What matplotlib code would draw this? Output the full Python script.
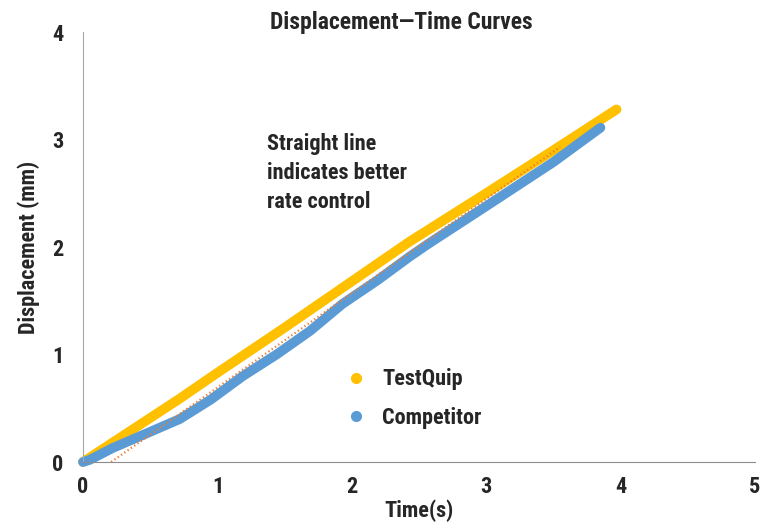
import matplotlib
matplotlib.use("Agg")
import matplotlib.pyplot as plt
from matplotlib.lines import Line2D

# values (seconds, mm)
quip_t = [0.0, 0.72, 1.0, 1.5, 1.93, 2.43, 3.0, 3.5, 3.97]
quip_d = [0.0, 0.59, 0.83, 1.25, 1.62, 2.05, 2.5, 2.9, 3.28]

comp_t = [0.0, 0.05, 0.22, 0.48, 0.72, 0.95, 1.19, 1.44, 1.69, 1.93, 2.19, 2.43, 2.57, 3.0, 3.5, 3.85]
comp_d = [0.0, 0.02, 0.13, 0.27, 0.40, 0.58, 0.80, 1.0, 1.22, 1.47, 1.69, 1.91, 2.03, 2.38, 2.79, 3.11]

trend_t = [0.21, 3.55]
trend_d = [0.0, 2.93]

series_names = ["TestQuip", "Competitor"]
xticks = [0, 1, 2, 3, 4, 5]
yticks = [0, 1, 2, 3, 4]

YELLOW = "#FFC000"
BLUE = "#5B9BD5"
ORANGE = "#ED7D31"
AXIS = "#A6A6A6"
TXT = "#262626"
FS = 16

plt.rcParams["font.family"] = ["Roboto Condensed", "Barlow Condensed", "Roboto", "DejaVu Sans"]
plt.rcParams["font.weight"] = "bold"
plt.rcParams["axes.labelweight"] = "bold"

fig = plt.figure(figsize=(7.6, 5.24), dpi=100)
ax = fig.add_axes([0.1092, 0.1183, 0.8842, 0.8206])

ax.plot(comp_t, comp_d, color=BLUE, lw=7, solid_capstyle="round", solid_joinstyle="round",
        zorder=2, clip_on=False)
ax.plot(quip_t, quip_d, color=YELLOW, lw=7, solid_capstyle="round", solid_joinstyle="round",
        zorder=1, clip_on=False)
ax.plot(trend_t, trend_d, color=ORANGE, lw=1.6, ls=(0, (0.6, 1.2)), zorder=3)

ax.set_xlim(0, 5)
ax.set_ylim(0, 4)
ax.set_xticks(xticks)
ax.set_yticks(yticks)
ax.tick_params(length=0, labelsize=FS, colors=TXT, pad=14)
ax.tick_params(axis="x", pad=10)

for s in ["top", "right"]:
    ax.spines[s].set_visible(False)
ax.spines["left"].set_color(AXIS)
ax.spines["bottom"].set_color("#8C8C8C")

ax.set_xlabel("Time(s)", fontsize=FS, color=TXT, labelpad=1)
ax.set_ylabel("Displacement (mm)", fontsize=FS, color=TXT, labelpad=9)
fig.text(0.528, 0.957, "Displacement\u2014Time Curves", fontsize=17, color=TXT,
         ha="center", va="center")

ax.text(1.37, 2.69, "Straight line\nindicates better\nrate control", fontsize=FS,
        color=TXT, ha="left", va="center", linespacing=1.4)

handles = [Line2D([], [], ls="none", marker="o", ms=7, color=c) for c in (YELLOW, BLUE)]
ax.legend(handles, series_names, loc="center left", bbox_to_anchor=(0.3655, 0.147),
          frameon=False, fontsize=FS, handlelength=0.7, handletextpad=0.8,
          labelspacing=0.75, labelcolor=TXT)

fig.savefig("out.png", dpi=100)
